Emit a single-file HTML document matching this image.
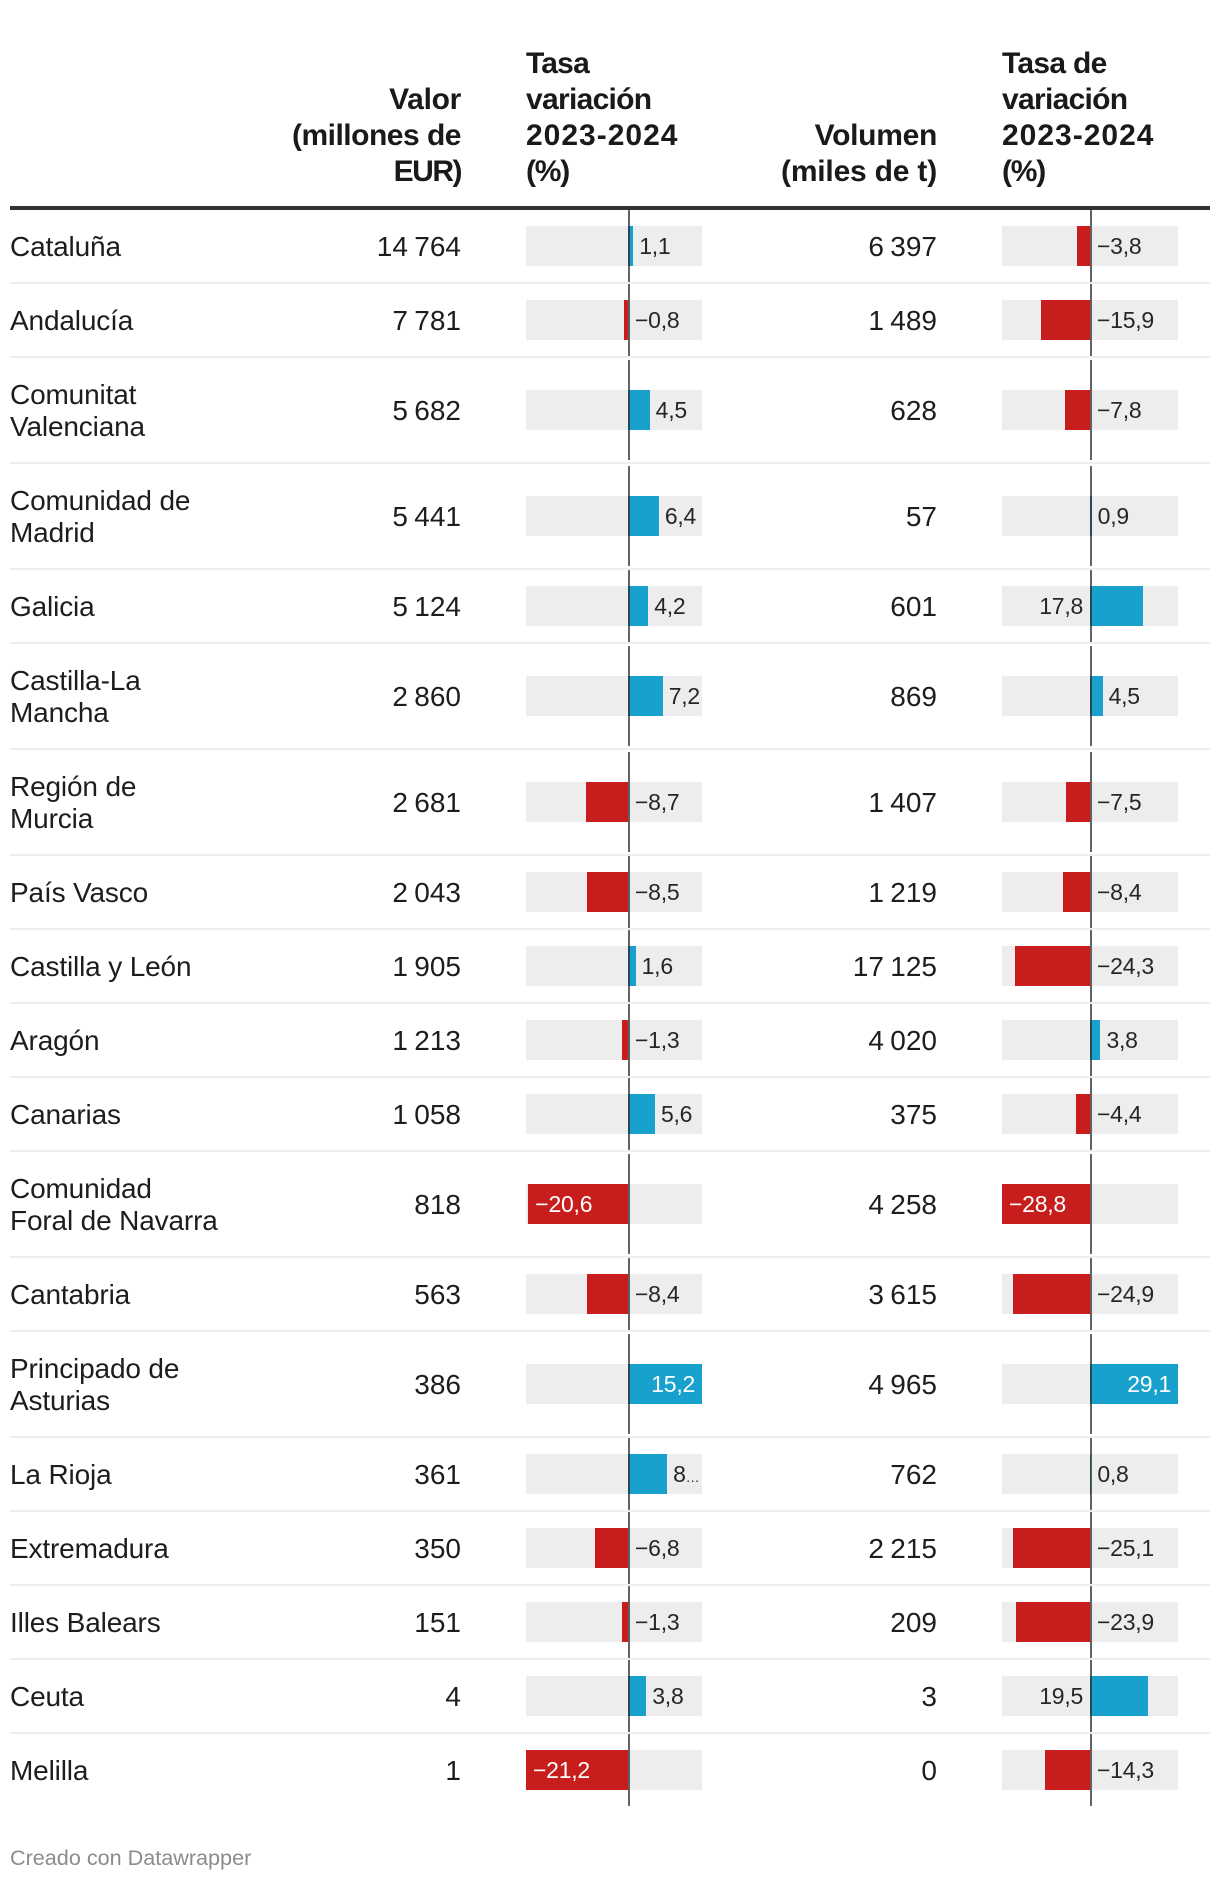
<!DOCTYPE html>
<html lang="es">
<head>
<meta charset="utf-8">
<title>Valor y volumen por comunidad autónoma</title>
<style>
  html, body { margin: 0; padding: 0; background: #fff; }
  #chart { position: relative; width: 1220px; height: 1882px; overflow: hidden; background: #fff;
           font-family: "Liberation Sans", sans-serif; color: #1d1d1d; }
  #chart div { position: absolute; box-sizing: border-box; }
  .hdr { font-weight: 700; font-size: 30px; line-height: 36px; color: #1a1a1a; white-space: nowrap; }
  .hdr span { display: block; }
  .name { font-size: 28px; line-height: 32px; white-space: pre; letter-spacing: -0.15px; }
  .num { font-size: 28px; line-height: 32px; text-align: right; white-space: nowrap; word-spacing: -1.4px; }
  .lbl { font-size: 23px; line-height: 40px; height: 40px; white-space: nowrap; color: #262626; letter-spacing: -0.25px; }
  .lbl.inv { color: #fff; }
  .lbl small { font-size: 14px; }
</style>
</head>
<body>
<div id="chart">
  <div class="hdr" style="right:759px;top:82px;text-align:right">
    <span style="letter-spacing:-.3px">Valor</span>
    <span style="letter-spacing:-.5px">(millones de</span>
    <span style="letter-spacing:-1.5px">EUR)</span>
  </div>
  <div class="hdr" style="left:526px;top:46px">
    <span style="letter-spacing:-.8px">Tasa</span>
    <span style="letter-spacing:-.7px">variación</span>
    <span style="letter-spacing:1px">2023-2024</span>
    <span style="letter-spacing:-1.2px">(%)</span>
  </div>
  <div class="hdr" style="right:283px;top:118px;text-align:right">
    <span style="letter-spacing:-.3px">Volumen</span>
    <span style="letter-spacing:-.2px">(miles de t)</span>
  </div>
  <div class="hdr" style="left:1002px;top:46px">
    <span style="letter-spacing:-.7px">Tasa de</span>
    <span style="letter-spacing:-.7px">variación</span>
    <span style="letter-spacing:1px">2023-2024</span>
    <span style="letter-spacing:-1.2px">(%)</span>
  </div>
  <div style="left:10px;top:206px;width:1200px;height:4px;background:#333"></div>
  <div style="left:10px;top:1846px;font-size:21.6px;line-height:24px;color:#8c8c8c;white-space:nowrap">Creado con Datawrapper</div>
</div>
<script>
const regions = ["Cataluña","Andalucía","Comunitat\nValenciana","Comunidad de\nMadrid","Galicia","Castilla-La\nMancha","Región de\nMurcia","País Vasco","Castilla y León","Aragón","Canarias","Comunidad\nForal de Navarra","Cantabria","Principado de\nAsturias","La Rioja","Extremadura","Illes Balears","Ceuta","Melilla"];
const valor = [14764,7781,5682,5441,5124,2860,2681,2043,1905,1213,1058,818,563,386,361,350,151,4,1];
const tasaValor = [1.1,-0.8,4.5,6.4,4.2,7.2,-8.7,-8.5,1.6,-1.3,5.6,-20.6,-8.4,15.2,8.1,-6.8,-1.3,3.8,-21.2];
const volumen = [6397,1489,628,57,601,869,1407,1219,17125,4020,375,4258,3615,4965,762,2215,209,3,0];
const tasaVolumen = [-3.8,-15.9,-7.8,0.9,17.8,4.5,-7.5,-8.4,-24.3,3.8,-4.4,-28.8,-24.9,29.1,0.8,-25.1,-23.9,19.5,-14.3];

const chart = document.getElementById('chart');
const ctx = document.createElement('canvas').getContext('2d');
ctx.font = '23px "Liberation Sans"';

function box(cls, css, text) {
  const el = document.createElement('div');
  if (cls) el.className = cls;
  el.style.cssText = css;
  if (text !== undefined) el.textContent = text;
  chart.appendChild(el);
  return el;
}
function fmtInt(n) { return String(n).replace(/\B(?=(\d{3})+$)/g, ' '); }
function fmtPct(v) { return (v < 0 ? '\u2212' : '') + Math.abs(v).toFixed(1).replace('.', ','); }
function makeAxis(values, left, width) {
  const lo = Math.min(0, ...values), hi = Math.max(0, ...values);
  const k = width / (hi - lo);
  const raw = left - lo * k;
  const zero = raw - 0.6;
  const line = Math.ceil(raw - 0.51);
  const right = left + width;
  return {
    left, width, right, lo, hi, k, zero, line,
    neg: v => (v === lo ? Math.max(left, raw + v * k) : zero + v * k),
    pos: v => (v === hi ? right : Math.min(right, zero + v * k))
  };
}

const TOP = 210, W_LEFT = 10, W_TOTAL = 1200;
const COLS = [
  { key: 'valor', nums: valor, pct: tasaValor, numRight: 461, axis: makeAxis(tasaValor, 526, 176) },
  { key: 'volumen', nums: volumen, pct: tasaVolumen, numRight: 937, axis: makeAxis(tasaVolumen, 1002, 176) }
];

let y = TOP;
regions.forEach((name, i) => {
  const two = name.indexOf('\n') >= 0;
  const isLast = i === regions.length - 1;
  const h = two ? 106 : 74;
  const cy = y + (h - 2) / 2;

  const nameEl = box('name', `left:${W_LEFT}px;top:${cy - (two ? 32 : 16) + 1}px`, name);
  
  

  COLS.forEach(col => {
    const ax = col.axis, v = col.pct[i];

    const numEl = box('num', `right:${1220 - col.numRight}px;top:${cy - 15}px`, fmtInt(col.nums[i]));
    
    

    const track = box('', `left:${ax.left}px;top:${cy - 20}px;width:${ax.width}px;height:40px;background:#ededed`);
    
    

    const bx = v < 0 ? ax.neg(v) : ax.line;
    const bEnd = v < 0 ? ax.line : Math.max(ax.line, ax.pos(v));
    const bar = box('', `left:${bx}px;top:${cy - 20}px;width:${bEnd - bx}px;height:40px;background:${v < 0 ? '#c71e1d' : '#18a1cd'}`);
    
    

    const lineTop = two ? y + 2 : y;
    const lineH = two ? 100 : 72;
    const axisLine = box('', `left:${ax.line}px;top:${lineTop}px;width:2px;height:${lineH}px;background:rgba(40,40,40,.72)`);
    
    

    const text = fmtPct(v);
    const tw = ctx.measureText(text).width;
    const side = v < 0 ? Math.abs(ax.lo) : ax.hi;
    const inside = side > 0 && Math.abs(v) / side >= 0.9;
    let css, cls = 'lbl', content = text, truncate = false;
    if (inside && v < 0) {
      css = `left:${bx + 7}px;top:${cy - 20}px`;
      cls = 'lbl inv';
    } else if (inside) {
      css = `right:${1220 - (bEnd - 7)}px;top:${cy - 20}px`;
      cls = 'lbl inv';
    } else if (v >= 0) {
      const rest = ax.right - bEnd;
      if (tw > rest + 2) {
        css = `right:${1220 - (ax.line - 7)}px;top:${cy - 20}px`;
      } else {
        const lx = bEnd + 6;
        css = `left:${lx}px;top:${cy - 20}px`;
        truncate = lx + tw > ax.right + 2;
      }
    } else {
      css = `left:${ax.line + 7}px;top:${cy - 20}px`;
    }
    const lbl = box(cls, css);
    if (truncate) {
      lbl.textContent = content.slice(0, 1);
      const dots = document.createElement('small');
      dots.textContent = '\u2026';
      lbl.appendChild(dots);
    } else {
      lbl.textContent = content;
    }
    
    
  });

  if (!isLast) {
    const sep = box('', `left:${W_LEFT}px;top:${y + h - 2}px;width:${W_TOTAL}px;height:2px;background:#eeeeee`);
    
    
  }
  y += h;
});
</script>
</body>
</html>
